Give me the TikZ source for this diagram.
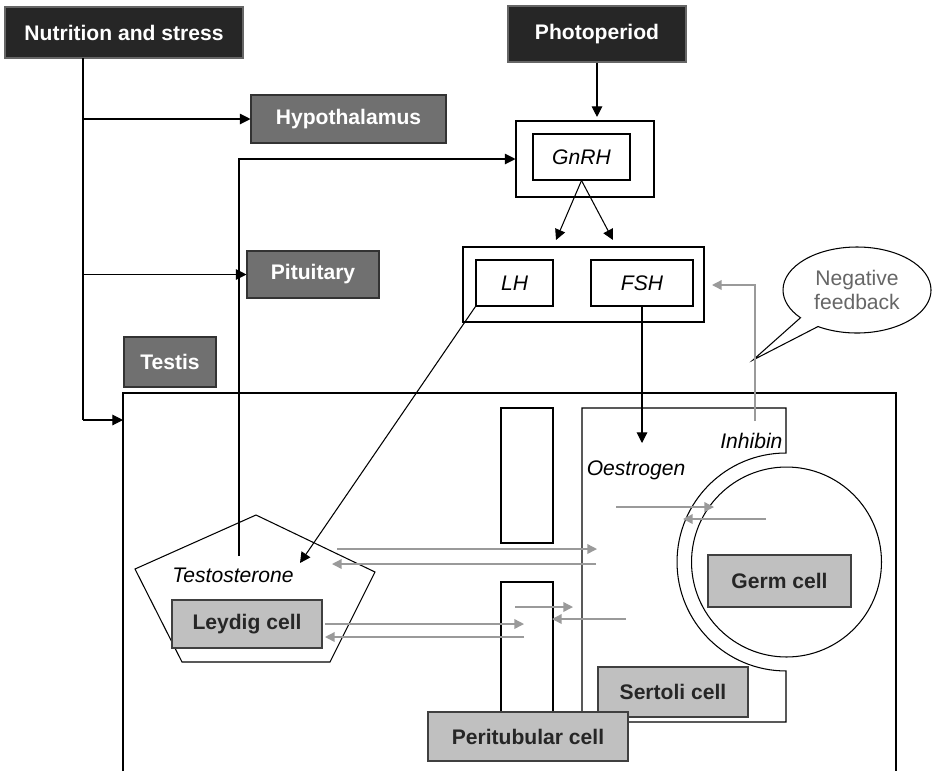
\documentclass[tikz,border=0pt]{standalone}
\usepackage{fontspec}
\setmainfont{Liberation Sans}
\usetikzlibrary{arrows.meta,shapes.callouts,calc}
\definecolor{boxblack}{HTML}{262626}
\definecolor{boxdark}{HTML}{707070}
\definecolor{boxlight}{HTML}{C0C0C0}
\definecolor{signalgrey}{HTML}{9A9A9A}
\definecolor{bubbletext}{HTML}{666666}

\begin{document}
\begin{tikzpicture}[x=0.02cm,y=-0.02cm,line width=0.6pt,
    >={Triangle[length=6pt,width=6pt]},
    every node/.style={font=\fontsize{12pt}{14pt}\selectfont,inner sep=0pt},
    boxsize/.style 2 args={minimum width=#1*0.02cm,minimum height=#2*0.02cm},
    blackbox/.style={rectangle,fill=boxblack,draw=black!60,text=white,
      font=\fontsize{12pt}{14pt}\selectfont\bfseries},
    greybox/.style={rectangle,fill=boxdark,draw=black!80,text=white,
      font=\fontsize{12pt}{14pt}\selectfont\bfseries},
    cellbox/.style={rectangle,fill=boxlight,draw=black!75,text=black!85,
      font=\fontsize{12pt}{14pt}\selectfont\bfseries},
    framebox/.style={rectangle,draw},
    hormbox/.style={rectangle,draw,font=\fontsize{12pt}{14pt}\selectfont\itshape},
    hormlabel/.style={font=\fontsize{12pt}{14pt}\selectfont\itshape},
    signal/.style={draw=signalgrey,line width=0.8pt,
      -{Triangle[length=5.5pt,width=5.5pt]}}]
  \useasboundingbox (0,0) rectangle (932,771);

  % outer signals and the two brain levels
  \node[blackbox,boxsize={238}{51}] (nutr) at (124,32.5) {Nutrition and stress};
  \node[blackbox,boxsize={178}{56}] (photo) at (597,34) {Photoperiod};
  \node[greybox,boxsize={195}{48}] (hypo) at (348.5,119) {Hypothalamus};
  \node[greybox,boxsize={132}{47}] (pit) at (313,274.5) {Pituitary};
  \node[greybox,boxsize={92}{50}] (testis) at (170,362) {Testis};

  % hormones
  \node[framebox,boxsize={138}{76}] (gnrhframe) at (585,159) {};
  \node[hormbox,boxsize={97}{46}] (gnrh) at (581.5,157) {GnRH};
  \node[framebox,boxsize={241}{75}] (gonframe) at (583.5,284.5) {};
  \node[hormbox,boxsize={77}{46}] (lh) at (514.5,283) {LH};
  \node[hormbox,boxsize={102}{46}] (fsh) at (642,283) {FSH};

  % testis compartment, open at the bottom
  \draw (123,771) -- (123,393) -- (896,393) -- (896,771);
  % seminiferous tubule walls
  \draw (501,408) rectangle (553,543);
  \draw (501,582) rectangle (553,712);
  % Sertoli cell body wrapped round the germ cell
  \draw (582,712) -- (582,408) -- (786,408) -- (786,453)
        arc[start angle=90,end angle=270,radius=2.18cm]
        -- (786,722) -- (628,722);
  \draw (786.5,562) circle[radius=1.9cm];
  % Leydig cell
  \draw (256,515) -- (375,572) -- (330,662) -- (182,662) -- (135,569) -- cycle;

  \node[hormlabel] (testo) at (233,575) {Testosterone};
  \node[hormlabel] (oestro) at (636,470) {Oestrogen};
  \node[hormlabel,anchor=east] (inhibin) at (783,441) {Inhibin};
  \node[cellbox,boxsize={150}{48}] (leydig) at (247,624) {Leydig cell};
  \node[cellbox,boxsize={143}{52}] (germ) at (779.5,581) {Germ cell};
  \node[cellbox,boxsize={150}{50}] (sertoli) at (673,692) {Sertoli cell};
  \node[cellbox,boxsize={200}{49}] (peri) at (528,736.5) {Peritubular cell};

  \node[ellipse callout,draw,fill=white,boxsize={148}{86},
        callout absolute pointer={(753,360)},callout pointer arc=18,
        text=bubbletext,align=center] (negfb) at (857,290) {Negative\\feedback};

  % nutrition and stress act on every level
  \coordinate (stemtop) at (83,58);
  \coordinate (stembot) at (83,420);
  \coordinate (testisin) at (123,420);
  \draw (stemtop) -- (stembot);
  \draw[->] (stembot) -- (testisin);
  \draw[->] (stemtop |- hypo.west) -- (hypo.west);
  \draw[->] (stemtop |- pit.west) -- (pit.west);

  % axis
  \draw[->,shorten >=2pt] (photo.south) -- (photo.south |- gnrhframe.north);
  \coordinate (lhtip) at (556,240);
  \coordinate (fshtip) at (613,240);
  \draw[->] (gnrh.south) -- (lhtip);
  \draw[->] (gnrh.south) -- (fshtip);
  \coordinate (leydigtip) at (300,563);
  \draw[->] (lh.south west) -- (leydigtip);
  \coordinate (sertolitip) at (641,443);
  \draw[->] (fsh.south) -- (fsh.south |- sertolitip);
  \coordinate (testofoot) at (239,556);
  \draw[->] (testofoot) |- (gnrhframe.west);

  % inhibin feedback
  \coordinate (inhibtop) at (755,421);
  \coordinate (fbtip) at (712,285);
  \draw[signal] (inhibtop) |- (fbtip);

  % local exchange between the cells
  \foreach \xa/\xb/\yy in {337/597/549, 596/332/564, 325/524/624, 524/325/637,
                           515/573/607, 626/552/619, 616/714/507, 766/683/519}
    \draw[signal] (\xa,\yy) -- (\xb,\yy);
\end{tikzpicture}
\end{document}
